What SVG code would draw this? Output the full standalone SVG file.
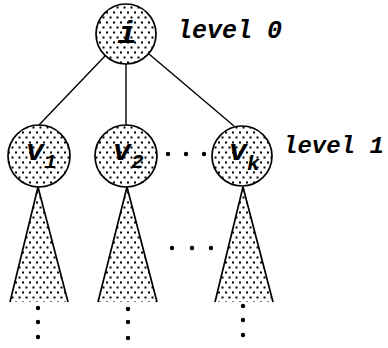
<svg xmlns="http://www.w3.org/2000/svg" width="388" height="348" viewBox="0 0 388 348">
  <defs>
    <!-- stipple fill used for nodes and subtrees: staggered rows of square dots -->
    <pattern id="stipple" width="7" height="10" patternUnits="userSpaceOnUse">
      <rect x="1" y="1.5" width="2" height="2" fill="#000"/>
      <rect x="4.5" y="6.5" width="2" height="2" fill="#000"/>
    </pattern>
  </defs>
  <style>
    .node { fill: url(#stipple); stroke: #000; stroke-width: 1.7; }
    .edge { stroke: #000; stroke-width: 1.4; fill: none; }
    .tree { fill: url(#stipple); stroke: none; }
    .side { stroke: #000; stroke-width: 1.7; fill: none; }
    .dot { fill: #000; }
    .lbl { font-family: "Liberation Mono", "Courier New", monospace; font-weight: bold; font-style: italic; fill: #000; }
  </style>
  <rect width="388" height="348" fill="#fff"/>

  <!-- connectors -->
  <g id="edges">
    <line class="edge" x1="105" y1="56" x2="39" y2="125"/>
    <line class="edge" x1="126" y1="64" x2="126" y2="125"/>
    <line class="edge" x1="149" y1="54" x2="234" y2="126"/>
  </g>

  <!-- subtrees below level 1 -->
  <g id="subtree-v1">
    <polygon class="tree" points="38,187 10,302 68,302"/>
    <polyline class="side" points="10,302 38,187 68,302"/>
    <circle class="dot" cx="38" cy="308" r="2.2"/>
    <circle class="dot" cx="38" cy="322" r="2.2"/>
    <circle class="dot" cx="38" cy="337" r="2.2"/>
  </g>
  <g id="subtree-v2">
    <polygon class="tree" points="127,187 98,302 157,302"/>
    <polyline class="side" points="98,302 127,187 157,302"/>
    <circle class="dot" cx="128" cy="309" r="2.2"/>
    <circle class="dot" cx="128" cy="322" r="2.2"/>
    <circle class="dot" cx="128" cy="338" r="2.2"/>
  </g>
  <g id="subtree-vk">
    <polygon class="tree" points="243,187 215,302 273,302"/>
    <polyline class="side" points="215,302 243,187 273,302"/>
    <circle class="dot" cx="243" cy="306" r="2.2"/>
    <circle class="dot" cx="243" cy="320" r="2.2"/>
    <circle class="dot" cx="243" cy="335" r="2.2"/>
  </g>
  <g id="ellipsis-subtrees">
    <circle class="dot" cx="172" cy="248" r="2.2"/>
    <circle class="dot" cx="192" cy="248" r="2.2"/>
    <circle class="dot" cx="211" cy="248" r="2.2"/>
  </g>

  <!-- nodes -->
  <g id="node-i">
    <circle class="node" cx="126" cy="34" r="30"/>
    <text class="lbl" x="127" y="43" font-size="32" text-anchor="middle">i</text>
  </g>
  <g id="node-v1">
    <circle class="node" cx="39" cy="156" r="31"/>
    <text class="lbl" x="26" y="160" font-size="30">v<tspan font-size="21" dy="8">1</tspan></text>
  </g>
  <g id="node-v2">
    <circle class="node" cx="126" cy="156" r="31"/>
    <text class="lbl" x="113" y="160" font-size="30">v<tspan font-size="21" dy="8">2</tspan></text>
  </g>
  <g id="ellipsis-level1">
    <circle class="dot" cx="168" cy="154" r="2.2"/>
    <circle class="dot" cx="186" cy="154" r="2.2"/>
    <circle class="dot" cx="204" cy="154" r="2.2"/>
  </g>
  <g id="node-vk">
    <circle class="node" cx="242" cy="156" r="30"/>
    <text class="lbl" x="229" y="160" font-size="30">v<tspan font-size="21" dy="10">k</tspan></text>
  </g>

  <!-- level captions -->
  <g id="level-labels">
    <text class="lbl" x="177" y="38" font-size="25">level 0</text>
    <text class="lbl" x="283" y="153" font-size="24">level 1</text>
  </g>
</svg>
